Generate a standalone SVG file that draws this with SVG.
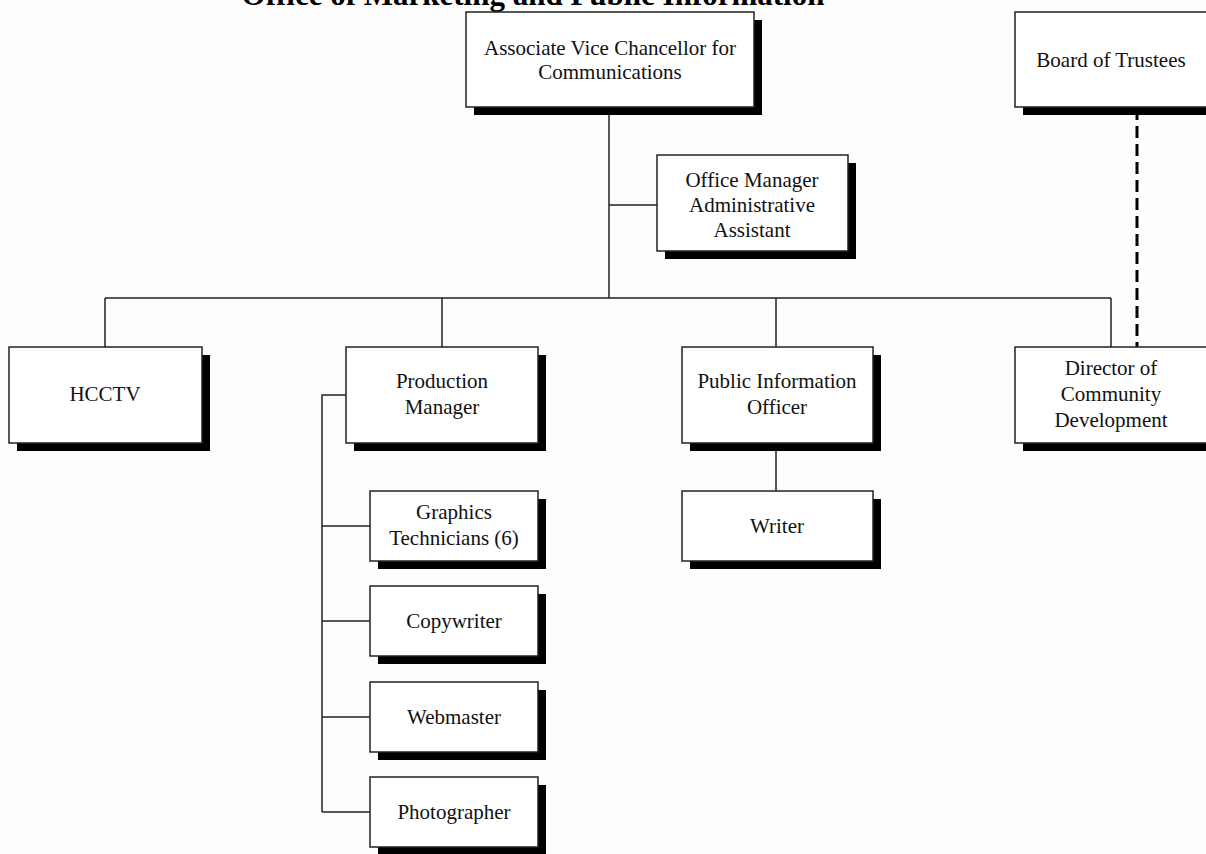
<svg xmlns="http://www.w3.org/2000/svg" width="1206" height="854" viewBox="0 0 1206 854">
<style>
.bg{fill:#fdfdfd}
.sh{fill:#000}
.bx{fill:#fff;stroke:#222;stroke-width:1.5}
.t{font-family:"Liberation Serif","Times New Roman",serif;font-size:21px;fill:#111;text-anchor:middle}
.title{font-family:"Liberation Serif","Times New Roman",serif;font-size:31px;font-weight:bold;fill:#000;text-anchor:middle}
.ln{fill:none;stroke:#222;stroke-width:1.5}
.dash{fill:none;stroke:#000;stroke-width:3;stroke-dasharray:12 6}
</style>
<rect class="bg" x="0" y="0" width="1206" height="854"/>
<text class="title" x="533" y="5">Office of Marketing and Public Information</text>

<g id="connectors">
<path class="ln" d="M609 107V298M609 205H657M105 298H1111M105 298V347M442 298V347M776 298V347M1111 298V347M776 443V491M346 395H322V812M322 526H370M322 621H370M322 717H370M322 812H370"/>
<path class="dash" d="M1137 108V347"/>
</g>

<g id="avc">
<rect class="sh" x="474" y="20" width="288" height="95"/>
<rect class="bx" x="466" y="12" width="288" height="95"/>
<text class="t" x="610" y="55">Associate Vice Chancellor for</text>
<text class="t" x="610" y="79">Communications</text>
</g>

<g id="board">
<rect class="sh" x="1023" y="20" width="200" height="95"/>
<rect class="bx" x="1015" y="12" width="200" height="95"/>
<text class="t" x="1111" y="67">Board of Trustees</text>
</g>

<g id="office-manager">
<rect class="sh" x="665" y="163" width="191" height="96"/>
<rect class="bx" x="657" y="155" width="191" height="96"/>
<text class="t" x="752" y="187">Office Manager</text>
<text class="t" x="752" y="212">Administrative</text>
<text class="t" x="752" y="237">Assistant</text>
</g>

<g id="hcctv">
<rect class="sh" x="17" y="355" width="193" height="96"/>
<rect class="bx" x="9" y="347" width="193" height="96"/>
<text class="t" x="105" y="401">HCCTV</text>
</g>

<g id="production-manager">
<rect class="sh" x="354" y="355" width="192" height="96"/>
<rect class="bx" x="346" y="347" width="192" height="96"/>
<text class="t" x="442" y="388">Production</text>
<text class="t" x="442" y="414">Manager</text>
</g>

<g id="public-information-officer">
<rect class="sh" x="690" y="355" width="191" height="96"/>
<rect class="bx" x="682" y="347" width="191" height="96"/>
<text class="t" x="777" y="388">Public Information</text>
<text class="t" x="777" y="414">Officer</text>
</g>

<g id="director">
<rect class="sh" x="1023" y="355" width="200" height="96"/>
<rect class="bx" x="1015" y="347" width="200" height="96"/>
<text class="t" x="1111" y="375">Director of</text>
<text class="t" x="1111" y="401">Community</text>
<text class="t" x="1111" y="427">Development</text>
</g>

<g id="writer">
<rect class="sh" x="690" y="499" width="191" height="70"/>
<rect class="bx" x="682" y="491" width="191" height="70"/>
<text class="t" x="777" y="533">Writer</text>
</g>

<g id="graphics">
<rect class="sh" x="378" y="499" width="168" height="70"/>
<rect class="bx" x="370" y="491" width="168" height="70"/>
<text class="t" x="454" y="519">Graphics</text>
<text class="t" x="454" y="545">Technicians (6)</text>
</g>

<g id="copywriter">
<rect class="sh" x="378" y="594" width="168" height="70"/>
<rect class="bx" x="370" y="586" width="168" height="70"/>
<text class="t" x="454" y="628">Copywriter</text>
</g>

<g id="webmaster">
<rect class="sh" x="378" y="690" width="168" height="70"/>
<rect class="bx" x="370" y="682" width="168" height="70"/>
<text class="t" x="454" y="724">Webmaster</text>
</g>

<g id="photographer">
<rect class="sh" x="378" y="785" width="168" height="70"/>
<rect class="bx" x="370" y="777" width="168" height="70"/>
<text class="t" x="454" y="819">Photographer</text>
</g>
</svg>
